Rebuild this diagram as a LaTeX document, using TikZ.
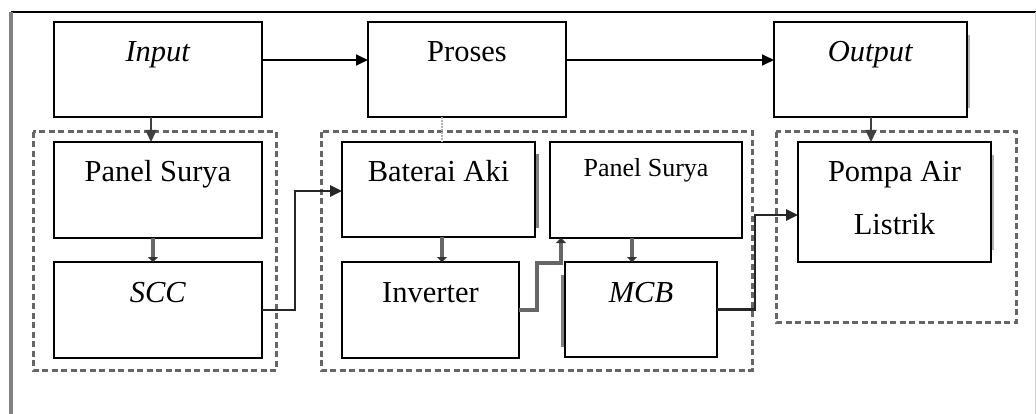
\documentclass[tikz,border=0pt]{standalone}
\usepackage{fontspec}
\setmainfont{Liberation Serif}
\usetikzlibrary{arrows.meta}
\newlength{\du}
\setlength{\du}{1pt}
\definecolor{garisabu}{rgb}{0.400000, 0.400000, 0.400000}
\tikzset{
  blok/.style={draw=black, line width=1.3pt, fill=white, inner sep=0pt, outer sep=0pt},
  tulisan/.style={anchor=base, inner sep=0pt, font=\fontsize{30.5}{53}\selectfont},
  panah/.style={draw=black, line width=1.8pt, -{Triangle[length=12pt,width=11pt]}},
  panahabu/.style={draw=garisabu, line width=3.5pt, -{Triangle[length=5pt,width=10pt,color=black!80]}},
  grup/.style={draw=garisabu, line width=3pt, dash pattern=on 6pt off 3.5pt},
  bayangan/.style={draw=gray, line width=3pt}
}
\begin{document}
\begin{tikzpicture}[x=1\du,y=-1\du]
\useasboundingbox (0,0) rectangle (1036,414);
% bingkai luar
\draw[line width=2.5pt] (11,12) -- (1036,12);
\draw[draw=gray, line width=3.5pt] (11,12) -- (11,414);
\draw[draw=gray!35, line width=1pt] (1035,12) -- (1035,414);
% kelompok putus-putus
\draw[grup] (33,132) rectangle (276,370);
\draw[grup] (321,132) rectangle (752,370);
\draw[grup] (776,132) rectangle (1016,322);
% bayangan kotak
\draw[bayangan] (537,154) -- (537,228);
\draw[bayangan] (562,275) -- (562,347);
\draw[bayangan, draw=gray!60, line width=1.8pt] (368,35) -- (368,108);
\draw[bayangan, draw=gray!60, line width=1.8pt] (969,35) -- (969,108);
\draw[bayangan, draw=gray!60, line width=1.8pt] (993,155) -- (993,250);
% kotak atas
\node[blok, minimum width=208\du, minimum height=95\du] (input) at (158,69.5) {};
\node[blok, minimum width=198\du, minimum height=95\du] (proses) at (467,69.5) {};
\node[blok, minimum width=193\du, minimum height=95\du] (output) at (870.5,69.5) {};
% kotak kelompok input
\node[blok, minimum width=208\du, minimum height=96\du] (panelsatu) at (158,190) {};
\node[blok, minimum width=208\du, minimum height=96\du] (scc) at (158,310) {};
% kotak kelompok proses
\node[blok, minimum width=193\du, minimum height=95\du] (baterai) at (438.5,189.5) {};
\node[blok, minimum width=192\du, minimum height=96\du] (paneldua) at (646,190) {};
\node[blok, minimum width=177\du, minimum height=96\du] (inverter) at (430.5,310) {};
\node[blok, minimum width=152\du, minimum height=95\du] (mcb) at (641,309.5) {};
% kotak kelompok output
\node[blok, minimum width=193\du, minimum height=120\du] (pompa) at (894.5,202) {};
% tulisan
\node[tulisan] (inputteks) at ([yshift=-40pt]input.north) {\textit{Input}};
\node[tulisan] (prosesteks) at ([yshift=-40pt]proses.north) {Proses};
\node[tulisan] (outputteks) at ([yshift=-40pt]output.north) {\textit{Output}};
\node[tulisan] (panelsatuteks) at ([yshift=-40pt]panelsatu.north) {Panel Surya};
\node[tulisan] (sccteks) at ([yshift=-40pt]scc.north) {\textit{SCC}};
\node[tulisan] (bateraiteks) at ([yshift=-40pt]baterai.north) {Baterai Aki};
\node[tulisan, font=\fontsize{26}{30}\selectfont] (panelduateks) at ([yshift=-35pt]paneldua.north) {Panel Surya};
\node[tulisan] (inverterteks) at ([yshift=-40pt]inverter.north) {Inverter};
\node[tulisan] (mcbteks) at ([yshift=-40pt]mcb.north) {\textit{MCB}};
\node[tulisan, align=center] (pompateks) at ([yshift=-93pt]pompa.north) {Pompa Air\\Listrik};
% panah atas
\draw[panah] ([yshift=9.5pt]input.east) -- ([yshift=9.5pt]proses.west);
\draw[panah] ([yshift=9.5pt]proses.east) -- ([yshift=9.5pt]output.west);
\draw[panah, draw=black!75] ([xshift=-7pt]input.south) -- ([xshift=-7pt]panelsatu.north);
\draw[panah, draw=black!75] ([xshift=0.5pt]output.south) -- ([xshift=0.5pt]output.south |- pompa.north);
\draw[draw=gray!60, line width=2pt, densely dotted] ([xshift=3pt]baterai.north |- proses.south) -- ([xshift=3pt]baterai.north);
% panah dalam kelompok
\draw[panahabu] ([xshift=-5pt]panelsatu.south) -- ([xshift=-5pt]scc.north);
\draw[panahabu] ([xshift=3.5pt]baterai.south) -- ([xshift=3.5pt]baterai.south |- inverter.north);
\draw[panahabu] ([xshift=-14pt]paneldua.south) -- ([xshift=-14pt]paneldua.south |- mcb.north);
% panah antar kelompok
\draw[panah, draw=black!85, line width=2.5pt] (scc.east) -| ([xshift=-47pt,yshift=-1.5pt]baterai.west) -- ([yshift=-1.5pt]baterai.west);
\draw[panahabu, line width=4pt] (inverter.east) -- (537,310) |- (561,263) -- ([xshift=11pt]paneldua.south west);
\draw[panah, draw=black!85, line width=2.5pt] (mcb.east) -| ([xshift=-43pt,yshift=-13pt]pompa.west) -- ([yshift=-13pt]pompa.west);
\end{tikzpicture}
\end{document}
